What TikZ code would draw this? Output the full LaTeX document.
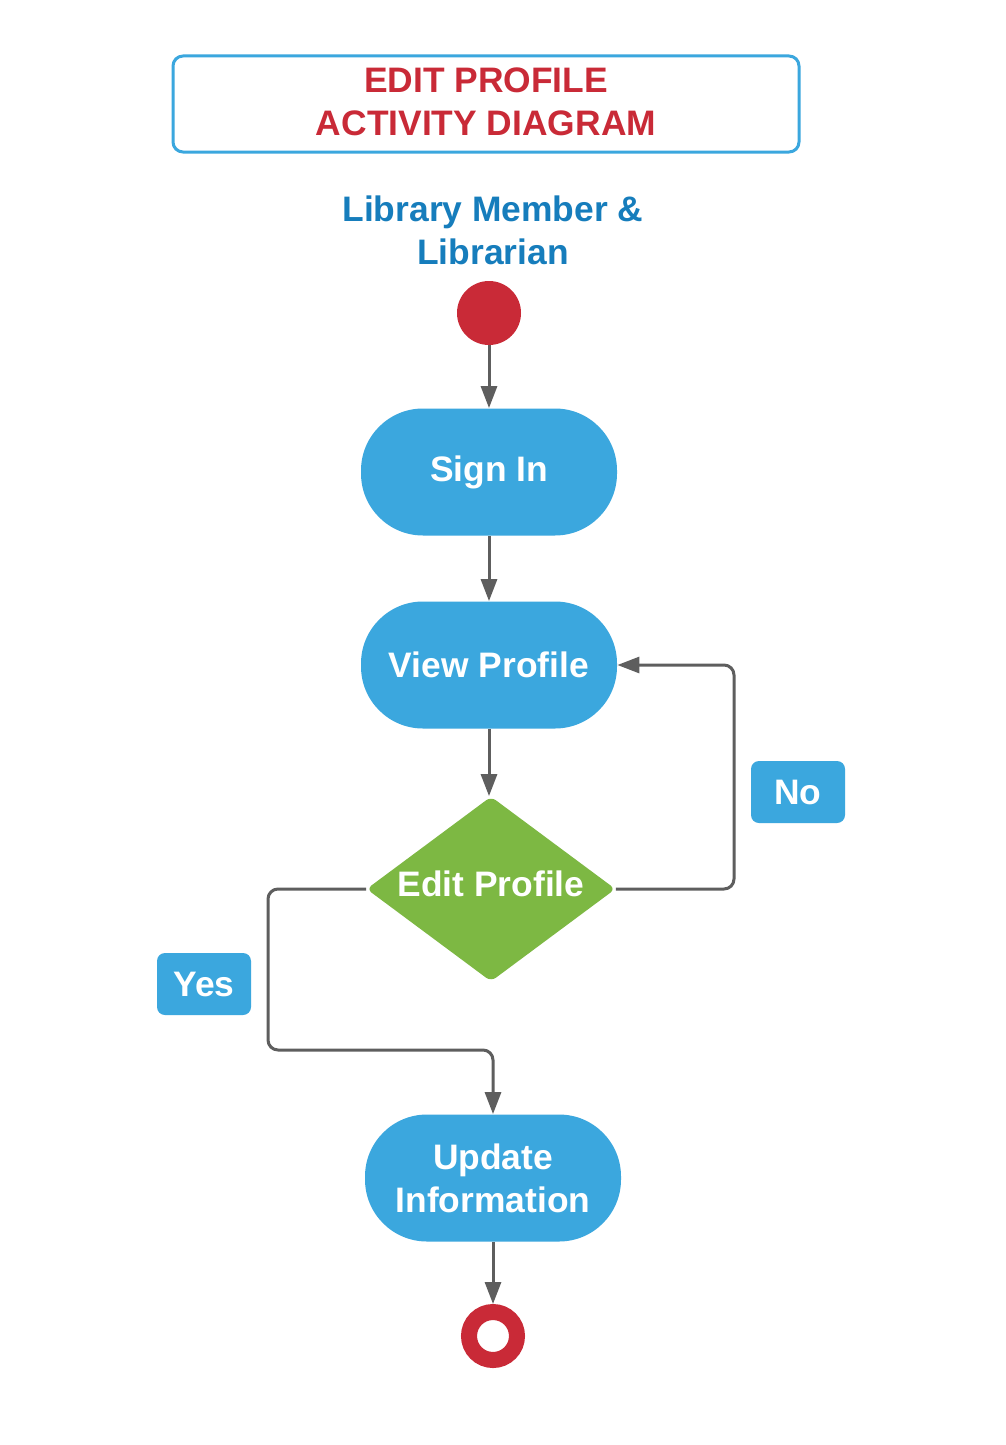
\documentclass[tikz,border=0pt]{standalone}
\usepackage{fontspec}
\setmainfont{Liberation Sans}
\usetikzlibrary{shapes.geometric,arrows.meta}

\definecolor{actblue}{RGB}{59,167,222}
\definecolor{headblue}{RGB}{22,125,188}
\definecolor{startred}{RGB}{201,42,55}
\definecolor{decgreen}{RGB}{125,184,67}
\definecolor{flowgray}{RGB}{94,94,94}

\begin{document}
\begin{tikzpicture}[x=0.5pt, y=-0.5pt,
    font=\fontsize{17.7}{21.5}\selectfont\bfseries,
    activity/.style={rectangle, rounded corners=31pt, fill=actblue, text=white,
        minimum width=128pt, minimum height=63.5pt, inner sep=0pt, align=center},
    decision/.style={diamond, fill=decgreen, rounded corners=3pt,
        minimum width=124.5pt, minimum height=92.5pt, inner sep=0pt},
    tag/.style={rectangle, rounded corners=4pt, fill=actblue, text=white,
        minimum width=47pt, minimum height=31pt, inner sep=0pt},
    flow/.style={draw=flowgray, line width=1.5pt, rounded corners=5pt,
        -{Triangle[width=8pt,length=11pt]}}]
    \useasboundingbox[fill=white] (0,0) rectangle (1006,1445);

    % heading
    \node (title) at (486,104) [draw=actblue, line width=1.5pt, rounded corners=5pt,
        minimum width=313pt, minimum height=48pt, text=startred, align=center] {};
    \node at (title.center) [yshift=1pt, text=startred, align=center] {EDIT PROFILE\\ACTIVITY DIAGRAM};
    \node (actor) at (493,230) [text=headblue, align=center] {Library Member \&\\Librarian};

    % nodes
    \node (start) at (489,313) [circle, fill=startred, minimum size=32pt, inner sep=0pt] {};
    \node (signin) at (489,472) [activity] {Sign In};
    \node (view) at (489,665) [activity] {View Profile};
    \node (edit) at (491,889) [decision, label={[text=white, yshift=2.5pt]center:Edit Profile}] {};
    \node (update) at (493,1178) [activity] {Update\\Information};
    \node (stop) at (493,1336) [circle, draw=startred, line width=8pt, minimum size=24pt,
        inner sep=0pt, outer sep=4pt] {};

    \node (no) at (798,794) [tag, yshift=1pt] {No};
    \node (yes) at (204,986) [tag, yshift=1pt] {Yes};

    \coordinate (noturn) at (734,889);
    \coordinate (yesturn) at (268,1050);

    % connectors
    \draw[flow] (start) -- (signin);
    \draw[flow] (signin) -- (view);
    \draw[flow] (view) -- (view.south |- edit.north);
    \draw[flow] (edit.east) -- (noturn) |- (view.east);
    \draw[flow] (edit.west) -| (yesturn) -| (update.north);
    \draw[flow] (update) -- (stop);
\end{tikzpicture}
\end{document}
